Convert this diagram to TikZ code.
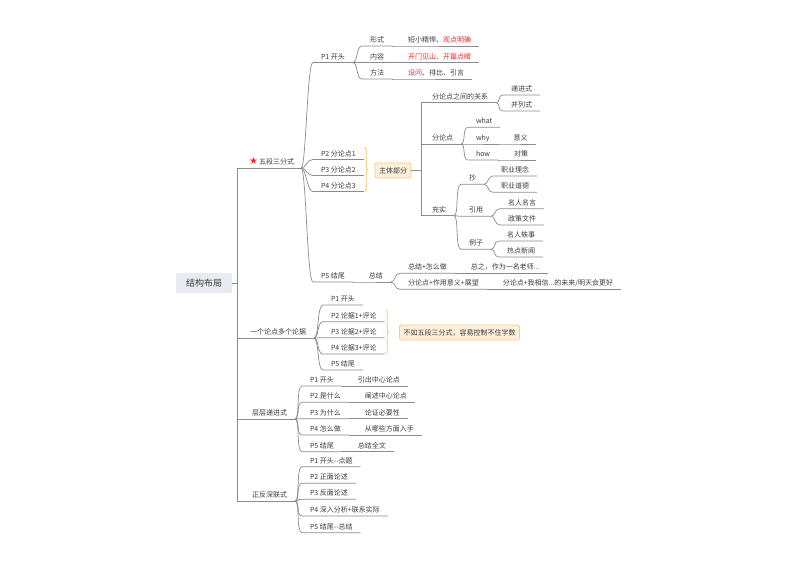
\documentclass[tikz,border=0pt]{standalone}
\usepackage{fontspec}
\setmainfont{Noto Sans CJK SC}
\newfontfamily\dejavu{DejaVu Sans}
\usetikzlibrary{calc,decorations.pathreplacing}
\definecolor{ln}{HTML}{8C8C8C}
\definecolor{tx}{HTML}{3C3C3C}
\definecolor{rd}{HTML}{F0282D}
\definecolor{sumfill}{HTML}{FDEFD9}
\definecolor{sumdraw}{HTML}{F3CD8A}
\definecolor{brcol}{HTML}{F2C46E}
\definecolor{rootfill}{HTML}{E9EBF2}
\newcommand\mmlink[2]{\draw[conn] (#1.south east) .. controls +(5,0) and +(-6,0) .. (#2.south west) -- (#2.south east);}
\newcommand\mmelbow[2]{\draw[conn] (#1) |- (#2.south east);}
\tikzset{
 topic/.style={font=\fontsize{7}{8}\selectfont, text=tx, inner xsep=8pt, inner ysep=2.5pt,
   text height=6.2pt, text depth=1pt, anchor=south west, outer sep=0pt},
 conn/.style={draw=ln, line width=0.7pt},
 sumbox/.style={font=\fontsize{7}{8}\selectfont, text=tx, fill=sumfill, draw=sumdraw, line width=0.8pt,
   rounded corners=2pt, minimum height=15pt, inner xsep=4pt, inner ysep=2pt},
 rootbox/.style={font=\fontsize{9}{10}\selectfont, text=tx, fill=rootfill, rounded corners=1pt,
   minimum width=56pt, minimum height=20pt, inner sep=2pt},
 brc/.style={draw=brcol, line width=0.8pt, decorate, decoration={brace, amplitude=3pt}}
}
\begin{document}
\begin{tikzpicture}[x=1pt,y=-1pt]
\fill[white] (0,0) rectangle (800,566);
\useasboundingbox (0,0) rectangle (800,566);

% root
\node[rootbox] (root) at (204,283) {结构布局};
\coordinate (rj) at (237,283);
\draw[conn] (root.east) -- (rj);

% level 1
\node[topic, inner xsep=7pt] (wd) at (242,168) {{\dejavu\fontsize{10}{10}\selectfont\color{rd}★}\,五段三分式};
\node[topic] (yg) at (242,338) {一个论点多个论据};
\node[topic] (cc) at (244,419) {层层递进式};
\node[topic] (zf) at (244,501) {正反深联式};
\mmelbow{rj}{wd}
\mmelbow{rj}{yg}
\mmelbow{rj}{cc}
\mmelbow{rj}{zf}

% five-part
\node[topic] (p1) at (313,62.5) {P1 开头};
\node[topic] (p2) at (313,159.5) {P2 分论点1};
\node[topic] (p3) at (313,175.5) {P3 分论点2};
\node[topic] (p4) at (313,191.5) {P4 分论点3};
\node[topic] (p5) at (313,282) {P5 结尾};
\mmlink{wd}{p1}
\mmlink{wd}{p2}
\mmlink{wd}{p3}
\mmlink{wd}{p4}
\mmlink{wd}{p5}

\node[topic] (xs) at (362,46) {形式};
\node[topic] (nr) at (362,62.5) {内容};
\node[topic] (ff) at (362,79) {方法};
\mmlink{p1}{xs}
\mmlink{p1}{nr}
\mmlink{p1}{ff}
\node[topic] (xs1) at ([xshift=8pt]xs.south east) {短小精悍、\textcolor{rd}{观点明确}};
\node[topic] (nr1) at ([xshift=8pt]nr.south east) {\textcolor{rd}{开门见山、开篇点睛}};
\node[topic] (ff1) at ([xshift=8pt]ff.south east) {\textcolor{rd}{设问}、排比、引言};
\mmlink{xs}{xs1}
\mmlink{nr}{nr1}
\mmlink{ff}{ff1}

% summary 主体部分
\draw[brc] ($(p2.north east)+(1,0)$) -- ($(p4.south east)+(1,0)$);
\node[sumbox] (zt) at (393,170.5) {主体部分};
\coordinate (zj) at (421,170.5);
\draw[conn] (zt.east) -- (zj);
\node[topic] (gx) at (424,102.7) {分论点之间的关系};
\node[topic] (fl) at (424,144) {分论点};
\node[topic] (cs) at (424,215.7) {充实};
\mmelbow{zj}{gx}
\mmelbow{zj}{fl}
\mmelbow{zj}{cs}

\node[topic] (dj) at (503,95) {递进式};
\node[topic] (bl) at (503,111) {并列式};
\mmlink{gx}{dj}
\mmlink{gx}{bl}

\node[topic] (wh) at (468,127.3) {what};
\node[topic] (wy) at (468,144) {why};
\node[topic] (hw) at (468,160) {how};
\mmlink{fl}{wh}
\mmlink{fl}{wy}
\mmlink{fl}{hw}
\node[topic] (yi) at ([xshift=8pt]wy.south east) {意义};
\node[topic] (dc) at ([xshift=8pt]hw.south east) {对策};
\mmlink{wy}{yi}
\mmlink{hw}{dc}

\node[topic] (ch) at (461,184.3) {抄};
\node[topic] (yy) at (461,216.2) {引用};
\node[topic] (lz) at (461,249.3) {例子};
\mmlink{cs}{ch}
\mmlink{cs}{yy}
\mmlink{cs}{lz}
\node[topic] (zl) at (493,176) {职业理念};
\node[topic] (zd) at (493,192.3) {职业道德};
\mmlink{ch}{zl}
\mmlink{ch}{zd}
\node[topic] (mm) at (500,208.7) {名人名言};
\node[topic] (zc) at (500,225) {政策文件};
\mmlink{yy}{mm}
\mmlink{yy}{zc}
\node[topic] (mr) at (499,241) {名人轶事};
\node[topic] (rx) at (499,257) {热点新闻};
\mmlink{lz}{mr}
\mmlink{lz}{rx}

\node[topic] (sz) at ([xshift=8pt]p5.south east) {总结};
\mmlink{p5}{sz}
\node[topic] (zz) at (400,273.3) {总结+怎么做};
\node[topic] (fz) at (400,289.3) {分论点+作用意义+展望};
\mmlink{sz}{zz}
\mmlink{sz}{fz}
\node[topic] (zz1) at ([xshift=8pt]zz.south east) {总之，作为一名老师...};
\node[topic] (fz1) at ([xshift=8pt]fz.south east) {分论点+我相信...的未来/明天会更好};
\mmlink{zz}{zz1}
\mmlink{fz}{fz1}

% one argument many evidences
\node[topic] (a1) at (323,305) {P1 开头};
\node[topic] (a2) at (323,321.7) {P2 论据1+评论};
\node[topic] (a3) at (323,337.7) {P3 论据2+评论};
\node[topic] (a4) at (323,354) {P4 论据3+评论};
\node[topic] (a5) at (323,370) {P5 结尾};
\mmlink{yg}{a1}
\mmlink{yg}{a2}
\mmlink{yg}{a3}
\mmlink{yg}{a4}
\mmlink{yg}{a5}
\draw[brc] ($(a2.north east)+(1,0)$) -- ($(a4.south east)+(1,0)$);
\node[sumbox] (bz) at (459.5,332.5) {不如五段三分式，容易控制不住字数};

% progressive
\node[topic] (b1) at (302,386) {P1 开头};
\node[topic] (b2) at (302,402.3) {P2 是什么};
\node[topic] (b3) at (302,418.7) {P3 为什么};
\node[topic] (b4) at (302,435) {P4 怎么做};
\node[topic] (b5) at (302,451.7) {P5 结尾};
\mmlink{cc}{b1}
\mmlink{cc}{b2}
\mmlink{cc}{b3}
\mmlink{cc}{b4}
\mmlink{cc}{b5}
\node[topic] (b1x) at ([xshift=8pt]b1.south east) {引出中心论点};
\node[topic] (b2x) at ([xshift=8pt]b2.south east) {阐述中心论点};
\node[topic] (b3x) at ([xshift=8pt]b3.south east) {论证必要性};
\node[topic] (b4x) at ([xshift=8pt]b4.south east) {从哪些方面入手};
\node[topic] (b5x) at ([xshift=8pt]b5.south east) {总结全文};
\mmlink{b1}{b1x}
\mmlink{b2}{b2x}
\mmlink{b3}{b3x}
\mmlink{b4}{b4x}
\mmlink{b5}{b5x}

% positive-negative
\node[topic] (c1) at (302,466.7) {P1 开头-{}-点题};
\node[topic] (c2) at (302,483.3) {P2 正面论述};
\node[topic] (c3) at (302,499.3) {P3 反面论述};
\node[topic] (c4) at (302,516) {P4 深入分析+联系实际};
\node[topic] (c5) at (302,532.7) {P5 结尾-{}-总结};
\mmlink{zf}{c1}
\mmlink{zf}{c2}
\mmlink{zf}{c3}
\mmlink{zf}{c4}
\mmlink{zf}{c5}
\end{tikzpicture}
\end{document}
